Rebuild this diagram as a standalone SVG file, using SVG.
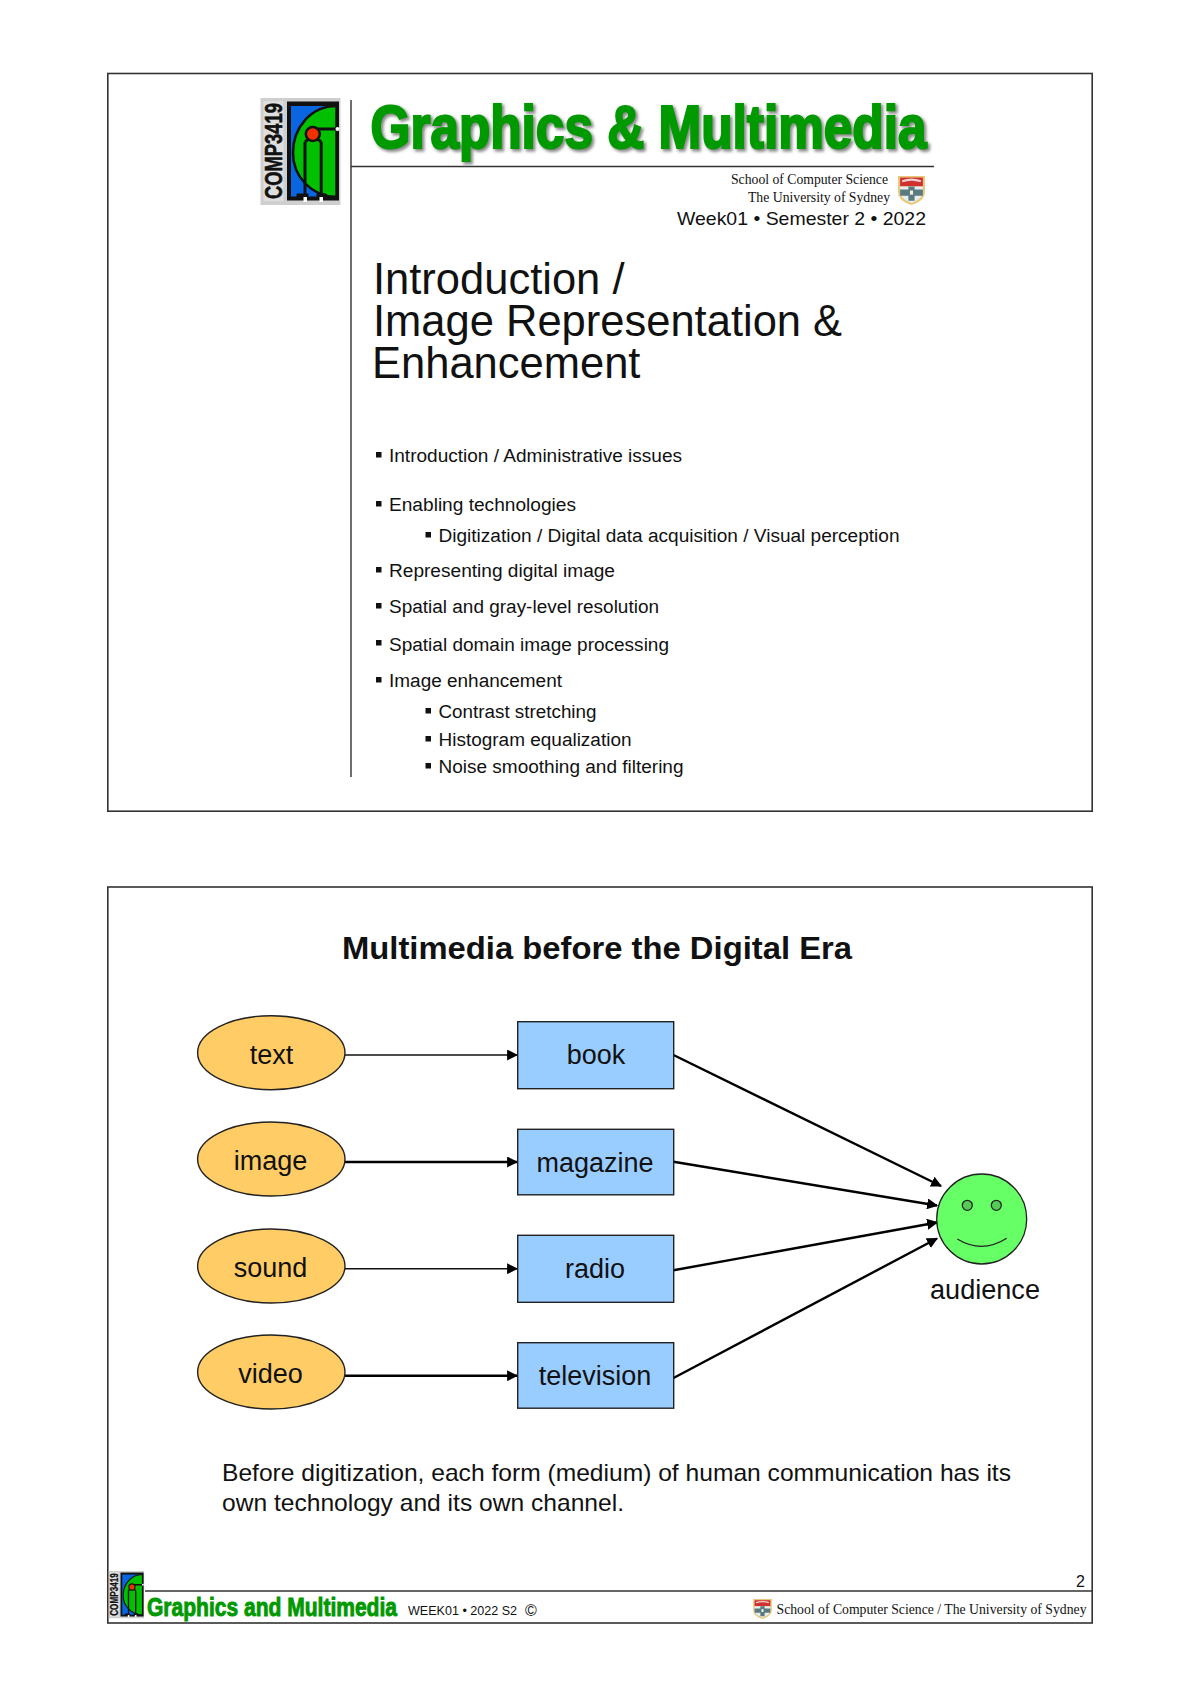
<svg xmlns="http://www.w3.org/2000/svg" width="1200" height="1698" viewBox="0 0 1200 1698">
<style>
text{font-family:"Liberation Sans",Arial,sans-serif;fill:#111}
.serif{font-family:"Liberation Serif","Times New Roman",serif}
.frame{fill:#fff;stroke:#333;stroke-width:1.6}
.rule{stroke:#333;stroke-width:1.4;fill:none}
.lab{font-size:27px;text-anchor:middle}
.b1{font-size:18px}
.h1{font-size:43.5px}
.oval{fill:#ffcc66;stroke:#222;stroke-width:1.4}
.box{fill:#99ccff;stroke:#222;stroke-width:1.4}
.thin{stroke:#111;stroke-width:1.4;fill:none;marker-end:url(#ah)}
.thick{stroke:#000;stroke-width:2.4;fill:none;marker-end:url(#ah)}
.brand{fill:#009900;stroke:#009900;font-weight:700}
</style>
<defs>
<marker id="ah" markerUnits="userSpaceOnUse" markerWidth="11" markerHeight="11" viewBox="0 0 10 10" refX="9" refY="5" orient="auto"><path d="M0 0L10 5L0 10z" fill="#000"/></marker>
<filter id="soft" x="-5%" y="-20%" width="110%" height="140%"><feGaussianBlur stdDeviation="1.6"/></filter>
<symbol id="logo" viewBox="0 0 80 107">
<rect width="80" height="107" fill="#cfcfcf"/>
<rect x="3" y="3" width="20" height="100" fill="#dedede"/>
<text transform="translate(21,101) rotate(-90)" font-size="23" font-weight="700" textLength="96" lengthAdjust="spacingAndGlyphs" stroke="#111" stroke-width="0.600" style="fill:#111">COMP3419</text>
<rect x="26.500" y="3.500" width="52" height="99" fill="#111"/>
<rect x="30.500" y="8" width="44" height="90.500" fill="#0a66e0"/>
<path d="M76 8C50 8 32.500 30 32.500 55C32.500 78 50 98 76 99z" fill="#00c000" stroke="#111" stroke-width="2.500"/>
<path d="M44.500 98V44M60.700 98V44M44.500 44Q52.500 36 60.700 44" fill="none" stroke="#111" stroke-width="3"/>
<path d="M36 98H48M56 98H66" stroke="#111" stroke-width="5"/>
<path d="M52 31H77" stroke="#111" stroke-width="3"/>
<circle cx="52.300" cy="36" r="7" fill="#f03000" stroke="#111" stroke-width="2.500"/>
<circle cx="77" cy="31" r="2" fill="#fff"/>
<rect x="43" y="99" width="3.500" height="5" fill="#fff"/>
<rect x="59" y="99" width="3.500" height="5" fill="#fff"/>
</symbol>
<symbol id="crest" viewBox="0 0 28 29">
<path d="M1 1H27V17Q27 25 14 29Q1 25 1 17z" fill="#e8c878"/>
<path d="M3 2.500H25V11H3z" fill="#d03030"/>
<path d="M5 6Q14 3 23 6" stroke="#f0d0d0" stroke-width="2" fill="none"/>
<path d="M3 11H25V17Q25 23 14 27Q3 23 3 17z" fill="#e8eef0"/>
<path d="M11 11H17V25H11zM3 14H25V20H3z" fill="#5a7a80"/>
<rect x="12.500" y="15" width="3" height="4" fill="#f0f0e0"/>
</symbol>
</defs>
<rect width="1200" height="1698" fill="#fff"/>

<g id="page1">
<rect class="frame" x="107.800" y="73.500" width="984.400" height="737.700"/>
<path class="rule" d="M351 100V777M351 166.500H934"/>
<use href="#logo" x="260" y="98" width="81" height="107"/>
<text x="372.500" y="150" font-size="62" textLength="556" lengthAdjust="spacingAndGlyphs" font-weight="700" stroke-width="3" filter="url(#soft)" style="fill:#888;stroke:#888">Graphics &amp; Multimedia</text>
<text class="brand" x="370.500" y="148" font-size="62" stroke-width="2.200" textLength="556" lengthAdjust="spacingAndGlyphs">Graphics &amp; Multimedia</text>
<text class="serif" x="731" y="184" font-size="14.500" textLength="157" lengthAdjust="spacingAndGlyphs">School of Computer Science</text>
<text class="serif" x="748" y="202" font-size="14.500" textLength="142" lengthAdjust="spacingAndGlyphs">The University of Sydney</text>
<use href="#crest" x="897" y="175" width="29" height="30"/>
<text x="677" y="224.500" font-size="19" textLength="249" lengthAdjust="spacingAndGlyphs">Week01 • Semester 2 • 2022</text>
<text class="h1" x="373" y="294">Introduction /</text>
<text class="h1" x="373" y="336">Image Representation &amp;</text>
<text class="h1" x="372" y="377.500">Enhancement</text>
<g fill="#111">
<rect x="376" y="452" width="5.500" height="5.500"/>
<rect x="376" y="501" width="5.500" height="5.500"/>
<rect x="425.500" y="532" width="5.500" height="5.500"/>
<rect x="376" y="567" width="5.500" height="5.500"/>
<rect x="376" y="603" width="5.500" height="5.500"/>
<rect x="376" y="640" width="5.500" height="5.500"/>
<rect x="376" y="677" width="5.500" height="5.500"/>
<rect x="425.500" y="708" width="5.500" height="5.500"/>
<rect x="425.500" y="736" width="5.500" height="5.500"/>
<rect x="425.500" y="763" width="5.500" height="5.500"/>
</g>
<text class="b1" x="389" y="462" textLength="293" lengthAdjust="spacingAndGlyphs">Introduction / Administrative issues</text>
<text class="b1" x="389" y="511" textLength="187" lengthAdjust="spacingAndGlyphs">Enabling technologies</text>
<text class="b1" x="438.500" y="541.500" textLength="461" lengthAdjust="spacingAndGlyphs">Digitization / Digital data acquisition / Visual perception</text>
<text class="b1" x="389" y="576.500" textLength="226" lengthAdjust="spacingAndGlyphs">Representing digital image</text>
<text class="b1" x="389" y="613" textLength="270" lengthAdjust="spacingAndGlyphs">Spatial and gray-level resolution</text>
<text class="b1" x="389" y="650.500" textLength="280" lengthAdjust="spacingAndGlyphs">Spatial domain image processing</text>
<text class="b1" x="389" y="687" textLength="173" lengthAdjust="spacingAndGlyphs">Image enhancement</text>
<text class="b1" x="438.500" y="717.500" textLength="158" lengthAdjust="spacingAndGlyphs">Contrast stretching</text>
<text class="b1" x="438.500" y="745.500" textLength="193" lengthAdjust="spacingAndGlyphs">Histogram equalization</text>
<text class="b1" x="438.500" y="773" textLength="245" lengthAdjust="spacingAndGlyphs">Noise smoothing and filtering</text>
</g>

<g id="page2">
<rect class="frame" x="107.800" y="887" width="984.400" height="736"/>
<text x="342" y="958.500" font-size="32" font-weight="700" textLength="510" lengthAdjust="spacingAndGlyphs">Multimedia before the Digital Era</text>
<text x="222" y="1481" font-size="24" textLength="789" lengthAdjust="spacingAndGlyphs">Before digitization, each form (medium) of human communication has its</text>
<text x="222" y="1510.500" font-size="24" textLength="402" lengthAdjust="spacingAndGlyphs">own technology and its own channel.</text>
<path class="rule" d="M145 1591H1092"/>
<use href="#logo" x="108.500" y="1571" width="36" height="47.500" preserveAspectRatio="none"/>
<text class="brand" x="147" y="1616" font-size="25" stroke-width="0.900" textLength="250" lengthAdjust="spacingAndGlyphs">Graphics and Multimedia</text>
<text x="408" y="1615" font-size="12.500" textLength="109" lengthAdjust="spacingAndGlyphs">WEEK01 • 2022 S2</text>
<text x="525" y="1616" font-size="16">©</text>
<use href="#crest" x="752.500" y="1598" width="20" height="21.500" preserveAspectRatio="none"/>
<text class="serif" x="776.500" y="1614" font-size="15" textLength="310" lengthAdjust="spacingAndGlyphs">School of Computer Science / The University of Sydney</text>
<text x="1085" y="1587" font-size="16" text-anchor="end">2</text>
</g>

<g id="connectors">
<path class="thin" d="M345 1055H517"/>
<path class="thick" d="M345 1162H517"/>
<path class="thin" d="M345 1268.700H517"/>
<path class="thick" d="M345 1375.700H517"/>
<path class="thick" d="M673.500 1055L941 1186"/>
<path class="thick" d="M673.500 1161.700L937 1205.500"/>
<path class="thick" d="M673.500 1270.300L937 1222.500"/>
<path class="thick" d="M673.500 1378L937 1238.500"/>
</g>

<g id="node-text"><ellipse class="oval" cx="271.300" cy="1052.700" rx="73.700" ry="37"/><text class="lab" x="271.500" y="1063.500">text</text></g>
<g id="node-image"><ellipse class="oval" cx="271.300" cy="1159" rx="73.700" ry="37"/><text class="lab" x="270.500" y="1169.500">image</text></g>
<g id="node-sound"><ellipse class="oval" cx="271.300" cy="1266" rx="73.700" ry="37"/><text class="lab" x="270.500" y="1277">sound</text></g>
<g id="node-video"><ellipse class="oval" cx="271.300" cy="1372" rx="73.700" ry="37"/><text class="lab" x="270.500" y="1382.500">video</text></g>
<g id="node-book"><rect class="box" x="517.700" y="1021.700" width="156" height="67"/><text class="lab" x="596" y="1064">book</text></g>
<g id="node-magazine"><rect class="box" x="517.700" y="1129.300" width="156" height="65.500"/><text class="lab" x="595" y="1172">magazine</text></g>
<g id="node-radio"><rect class="box" x="517.700" y="1235.300" width="156" height="67"/><text class="lab" x="595" y="1278">radio</text></g>
<g id="node-television"><rect class="box" x="517.700" y="1342.700" width="156" height="65.500"/><text class="lab" x="595" y="1385">television</text></g>
<g id="node-audience">
<circle cx="981.700" cy="1219" r="45" fill="#66ff66" stroke="#222" stroke-width="1.300"/>
<circle cx="967.300" cy="1205.300" r="5" fill="#55cc55" stroke="#222" stroke-width="1.300"/>
<circle cx="996.300" cy="1205.300" r="5" fill="#55cc55" stroke="#222" stroke-width="1.300"/>
<path d="M957.300 1239Q982 1254 1006.700 1238.300" fill="none" stroke="#222" stroke-width="1.300"/>
<text class="lab" x="985" y="1298.500" textLength="110" lengthAdjust="spacingAndGlyphs">audience</text>
</g>
</svg>
